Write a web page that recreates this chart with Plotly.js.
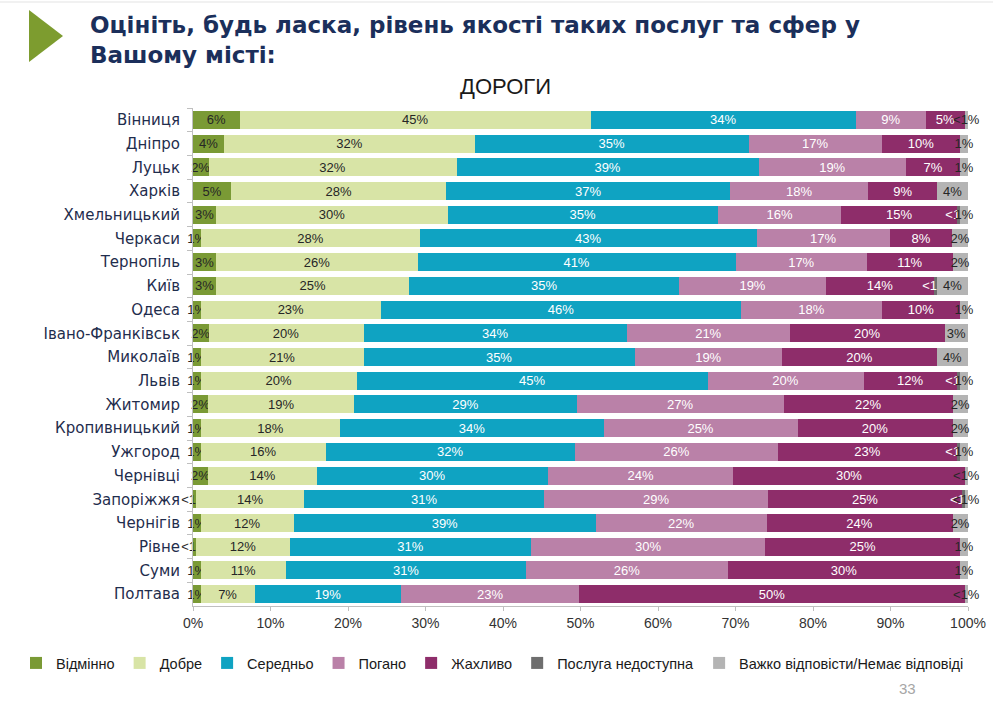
<!DOCTYPE html>
<html>
<head>
<meta charset="utf-8">
<script src="https://cdn.plot.ly/plotly-3.0.1.min.js"></script>
<style>
html,body{margin:0;padding:0;background:#fff;}
#chart{width:993px;height:717px;}
</style>
</head>
<body>
<div id="chart"></div>
<script>
const cities = ['Вінниця','Дніпро','Луцьк','Харків','Хмельницький','Черкаси','Тернопіль','Київ','Одеса','Івано-Франківськ','Миколаїв','Львів','Житомир','Кропивницький','Ужгород','Чернівці','Запоріжжя','Чернігів','Рівне','Суми','Полтава'];

const excellent   = [6,4,2,5,3,1,3,3,1,2,1,1,2,1,1,2,0.4,1,0.4,1,1];
const good        = [45,32,32,28,30,28,26,25,23,20,21,20,19,18,16,14,14,12,12,11,7];
const average     = [34,35,39,37,35,43,41,35,46,34,35,45,29,34,32,30,31,39,31,31,19];
const poor        = [9,17,19,18,16,17,17,19,18,21,19,20,27,25,26,24,29,22,30,26,23];
const terrible    = [5,10,7,9,15,8,11,14,10,20,20,12,22,20,23,30,25,24,25,30,50];
const unavailable = [0,0,0,0,0.4,0,0,0.4,0,0,0,0.4,0,0,0.4,0,0.4,0,0,0,0];
const hard        = [0.4,1,1,4,1,2,2,4,1,3,4,1,2,2,1,0.4,0.4,2,1,1,0.4];

const seriesNames = ['Відмінно','Добре','Середньо','Погано','Жахливо','Послуга недоступна','Важко відповісти/Немає відповіді'];
const tickLabels = ['0%','10%','20%','30%','40%','50%','60%','70%','80%','90%','100%'];
const tickValues = [0,10,20,30,40,50,60,70,80,90,100];

const seriesValues = [excellent, good, average, poor, terrible, unavailable, hard];
const colors = ['#7a9a35','#d8e4a6','#0fa3c2','#ba81a8','#8e2d6a','#6e6e6e','#b4b4b4'];
const textColors = ['#262626','#262626','#ffffff','#ffffff','#ffffff','#ffffff','#262626'];

function lbl(v){ if(v===0) return ''; if(v<1) return '<1%'; return Math.round(v)+'%'; }

const labelFont = 'Liberation Sans, Arial, sans-serif';

const traces = seriesValues.map((vals,i)=>({
  type:'bar', orientation:'h', name: seriesNames[i],
  y: cities, x: vals,
  text: vals.map(lbl),
  textposition:'inside', insidetextanchor:'middle', textangle:0,
  constraintext:'none', cliponaxis:false,
  insidetextfont:{family:labelFont, size:13, color:textColors[i]},
  marker:{color:colors[i], line:{width:0}},
  hoverinfo:'skip'
}));

function px2x(px){ return (px-193)/775; }
function py2y(py){ return (606-py)/498; }

const layout = {
  width:993, height:717,
  paper_bgcolor:'#ffffff', plot_bgcolor:'#ffffff',
  margin:{l:193, r:25, t:108, b:111, pad:0},
  barmode:'stack', barnorm:'percent', bargap:0.24,
  showlegend:true,
  legend:{orientation:'h', xref:'paper', yref:'paper', x:px2x(16), y:py2y(663), xanchor:'left', yanchor:'middle',
    font:{family:labelFont, size:14.5, color:'#1a1a1a'}, traceorder:'normal', itemwidth:30},
  title:{text:'Оцініть, будь ласка, рівень якості таких послуг та сфер у<br>Вашому місті:',
    xref:'container', yref:'container', x:90/993, xanchor:'left', y:1-33/717, yanchor:'top',
    font:{family:'DejaVu Sans, sans-serif', size:23, color:'#1b2f5b', weight:'bold'}},
  xaxis:{range:[0,100], tickvals:tickValues, ticktext:tickLabels, showgrid:false, zeroline:false,
    showline:true, linecolor:'#bfbfbf', linewidth:1, ticks:'outside', ticklen:4, tickcolor:'#bfbfbf',
    tickfont:{family:labelFont, size:14, color:'#333333'}, fixedrange:true},
  yaxis:{type:'category', autorange:'reversed', showgrid:false, zeroline:false,
    showline:true, linecolor:'#bfbfbf', linewidth:1, ticks:'outside', tickson:'boundaries', ticklen:5, tickcolor:'#bfbfbf',
    tickfont:{family:'DejaVu Sans, sans-serif', size:15, color:'#1f2d4d'}, ticklabelstandoff:9, fixedrange:true},
  annotations:[
    {text:'ДОРОГИ', xref:'paper', yref:'paper', x:px2x(505), y:py2y(87), xanchor:'center', yanchor:'middle', showarrow:false,
     font:{family:'Liberation Sans, Arial, sans-serif', size:22, color:'#1a1a1a'}},
    {text:'33', xref:'paper', yref:'paper', x:px2x(907), y:py2y(688), xanchor:'center', yanchor:'middle', showarrow:false,
     font:{family:labelFont, size:15, color:'#a6a6a6'}}
  ],
  shapes:[
    {type:'path', xref:'paper', yref:'paper',
     path:'M '+px2x(29)+' '+py2y(10)+' L '+px2x(63)+' '+py2y(36)+' L '+px2x(29)+' '+py2y(62)+' Z',
     fillcolor:'#7d9c2f', line:{width:0}, layer:'above'},
    {type:'line', xref:'paper', yref:'paper', x0:px2x(0), x1:px2x(993), y0:py2y(2), y1:py2y(2),
     line:{color:'#e3e3e3', width:1}}
  ]
};

Plotly.newPlot('chart', traces, layout, {staticPlot:true, displayModeBar:false});
</script>
</body>
</html>
